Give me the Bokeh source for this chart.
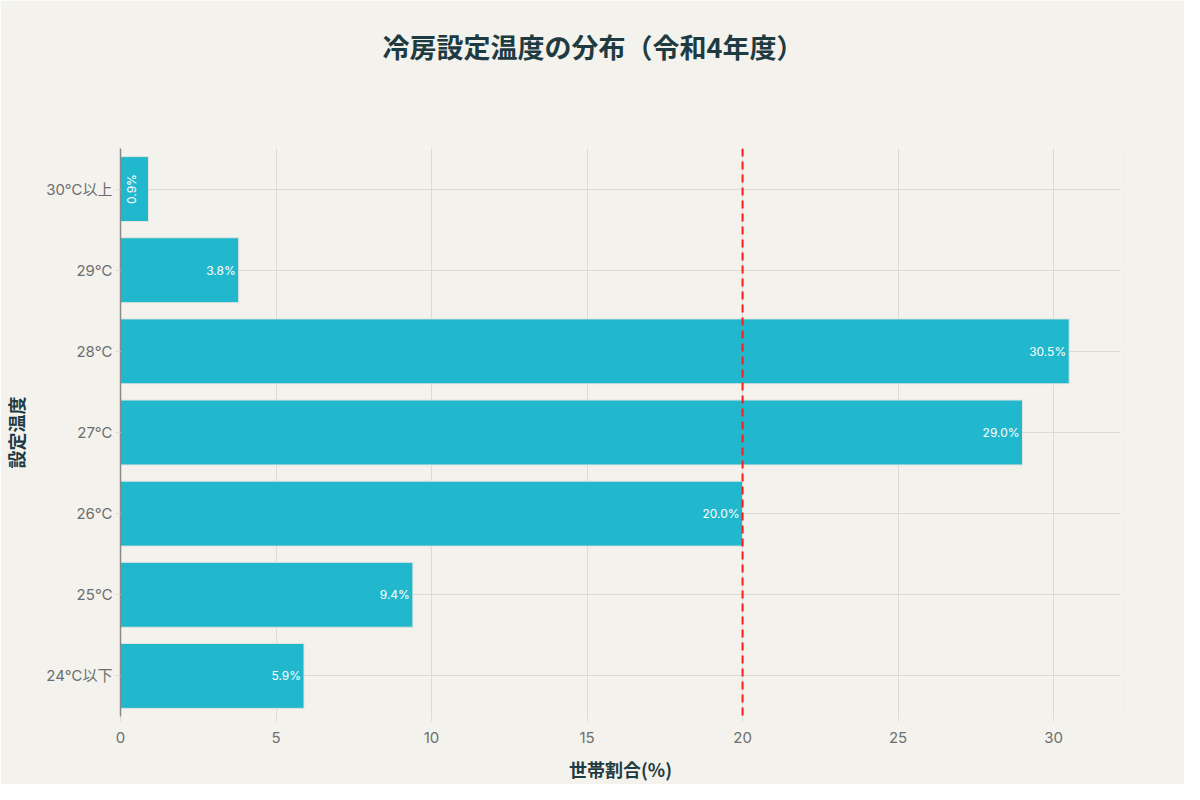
import math

from bokeh.core.properties import value
from bokeh.embed import file_html
from bokeh.models import ColumnDataSource, Span, FixedTicker, Title
from bokeh.plotting import figure
from bokeh.resources import INLINE

# data
categories = ["24℃以下", "25℃", "26℃", "27℃", "28℃", "29℃", "30℃以上"]
shares = [5.9, 9.4, 20.0, 29.0, 30.5, 3.8, 0.9]
reference_share = 20
x_ticks = [0, 5, 10, 15, 20, 25, 30]

title_text = "冷房設定温度の分布（令和4年度）"
x_label = "世帯割合(%)"
y_label = "設定温度"

BG = "#f3f2ed"
BAR = "#21b8cd"
DARK = "#1f3b42"
GREY = "#6e6e6e"
FONT = "Inter, 'Noto Sans CJK JP'"
CJK = "Noto Sans CJK JP"

W, H = 1184, 784
LEFT, RIGHT, TOP, BOTTOM = 120, 64, 148, 68

source = ColumnDataSource(data=dict(cat=categories, share=shares))

# labels: narrow bars get a rotated label in the middle of the bar
lab_x, lab_y, lab_t, lab_a, lab_align = [], [], [], [], []
for c, s in zip(categories, shares):
    lab_y.append(c)
    lab_t.append(f"{s:.1f}%")
    if s < 2:
        lab_x.append(s / 2)
        lab_a.append(math.pi / 2)
        lab_align.append("center")
    else:
        lab_x.append(s)
        lab_a.append(0)
        lab_align.append("right")
lab_src = ColumnDataSource(data=dict(x=lab_x, y=lab_y, t=lab_t, a=lab_a, al=lab_align))

p = figure(y_range=categories, x_range=(0, 32.15), width=W, height=H,
           output_backend="svg", toolbar_location=None,
           min_border_left=LEFT, min_border_right=RIGHT,
           min_border_top=TOP, min_border_bottom=BOTTOM)
p.y_range.range_padding = 0

p.background_fill_color = BG
p.border_fill_color = BG
p.outline_line_color = None

p.hbar(y="cat", right="share", left=0, height=0.8, source=source,
       fill_color=BAR, line_color="#e4e4de", line_width=1)

p.text(x="x", y="y", text="t", angle="a", text_align="al", source=lab_src,
       text_baseline="middle", x_offset=-3, text_color="white",
       text_font=value(FONT), text_font_size="12px")

ref = Span(location=reference_share, dimension="height", line_color="#ff1a1a",
           line_width=2, line_dash="8 5")
p.add_layout(ref)

# spacer between frame and title (nearest the frame), then the title itself
spacer = Title(text=" ", text_font_size="1px", standoff=75, text_color=BG)
p.add_layout(spacer, "above")

p.title.text = title_text
p.title.align = "left"
p.title.offset = 262
p.title.standoff = 10
p.title.text_font = CJK
p.title.text_font_size = "27px"
p.title.text_font_style = "bold"
p.title.text_color = DARK

p.xaxis.ticker = FixedTicker(ticks=x_ticks)
p.xaxis.axis_line_color = None
p.xaxis.major_tick_line_color = "#dcdcd6"
p.xaxis.major_tick_out = 5
p.xaxis.major_tick_in = 0
p.xaxis.minor_tick_line_color = None
p.xaxis.major_label_standoff = 10
p.xaxis.axis_label = x_label
p.xaxis.axis_label_standoff = 10

p.yaxis.axis_line_color = "#888888"
p.yaxis.axis_line_width = 1.5
p.yaxis.major_tick_line_color = "#dcdcd6"
p.yaxis.major_tick_out = 5
p.yaxis.major_tick_in = 0
p.yaxis.major_label_standoff = 3
p.yaxis.axis_label = y_label
p.yaxis.axis_label_standoff = 14

for ax in (p.xaxis, p.yaxis):
    ax.major_label_text_font = FONT
    ax.major_label_text_font_size = "15px"
    ax.major_label_text_color = GREY
    ax.axis_label_text_font = CJK
    ax.axis_label_text_font_size = "18px"
    ax.axis_label_text_font_style = "bold"
    ax.axis_label_text_color = DARK

p.xgrid.grid_line_color = "#dbdad4"
p.ygrid.grid_line_color = "#dbdad4"
p.xgrid.grid_line_width = 1
p.ygrid.grid_line_width = 1

open("out.html", "w").write(file_html(p, INLINE))
